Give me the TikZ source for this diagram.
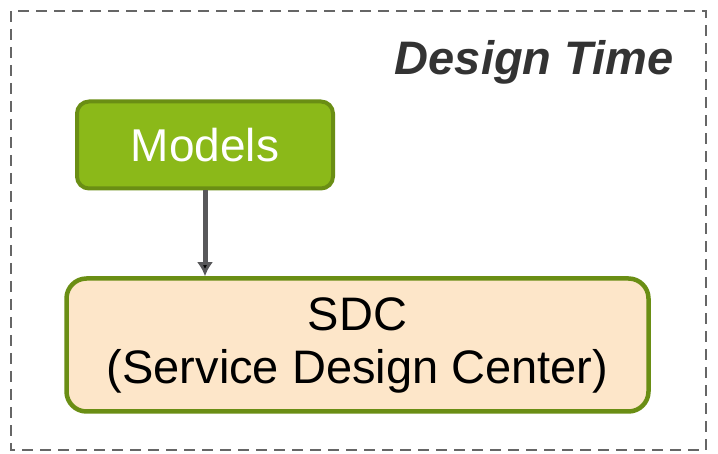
\documentclass[tikz,border=0pt]{standalone}
\usepackage{fontspec}
\setmainfont{Liberation Sans}
\usepackage{tikz}
\usetikzlibrary{arrows.meta}
\definecolor{leaf}{HTML}{8BB919}
\definecolor{leafdark}{HTML}{6A8E14}
\definecolor{peach}{HTML}{FDE6C9}
\definecolor{arrowgray}{HTML}{58585A}
\definecolor{framegray}{HTML}{666666}
\definecolor{titlegray}{HTML}{333333}

\begin{document}
\begin{tikzpicture}[x=1pt, y=-1pt,
                main/.style = {draw=leafdark, line width=4pt, rectangle, align=center, inner sep=0pt},
                model/.style = {main, fill=leaf, text=white, rounded corners=12pt, minimum width=256pt, minimum height=87pt, font=\fontsize{46}{52}\selectfont},
                center/.style = {main, fill=peach, text=black, rounded corners=20pt, minimum width=582pt, minimum height=133pt, line width=4.5pt, font=\fontsize{47}{53}\selectfont}]
                \useasboundingbox (0,0) rectangle (718,454);
                \draw[framegray, line width=2.5pt, dash pattern=on 11pt off 7pt] (11,11) rectangle (706,450);
                \node[anchor=east, text=titlegray, font=\fontsize{47}{53}\selectfont\bfseries\itshape] (1) at (677,62) {Design Time};
                \node[model] (2) at (205,145) {Models};
                \node[center] (3) at (357.5,345) {SDC\\(Service Design Center)};
                \path[-{Latex[width=16pt,length=14pt]}, draw=arrowgray, line width=5pt] (2) edge (2 |- 3.north);
            \end{tikzpicture}
\end{document}
